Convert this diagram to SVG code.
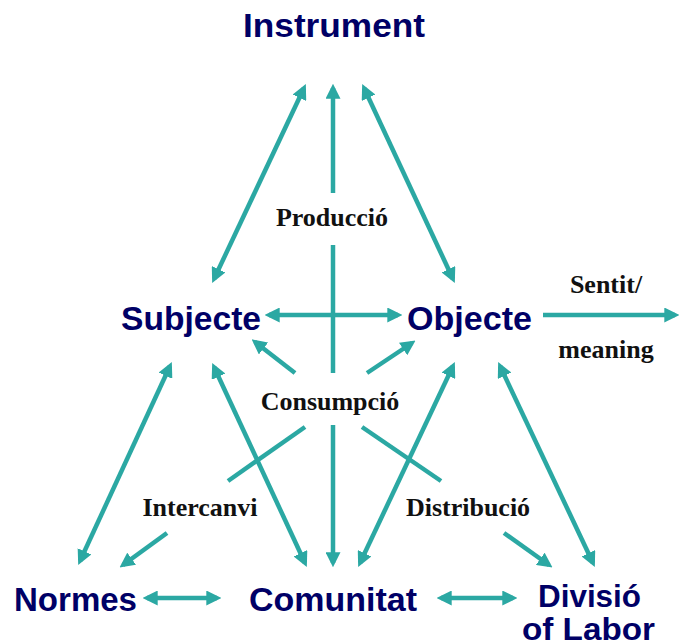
<svg xmlns="http://www.w3.org/2000/svg" width="679" height="644" viewBox="0 0 679 644">
<style>
.node{font-family:"Liberation Sans",Arial,sans-serif;font-weight:bold;font-size:33px;fill:#000066;text-anchor:middle}
.sm{font-size:31px}
.lbl{font-family:"Liberation Serif","Times New Roman",serif;font-weight:bold;font-size:26px;fill:#111;text-anchor:middle}
.c line{stroke:#2ba8a3;stroke-width:4.5;fill:none}
.e{marker-end:url(#ah)}
.b{marker-start:url(#ah);marker-end:url(#ah)}
</style>
<defs>
<marker id="ah" viewBox="0 0 14 14" refX="10" refY="7" markerWidth="15" markerHeight="15" markerUnits="userSpaceOnUse" orient="auto-start-reverse">
<path d="M0,0 L14,7 L0,14 z" fill="#2ba8a3"/>
</marker>
</defs>
<rect width="679" height="644" fill="#fff"/>
<g class="c" id="connectors">
<line class="b" x1="304" y1="88" x2="214" y2="279"/>
<line class="e" x1="333" y1="193" x2="333" y2="88"/>
<line class="b" x1="364" y1="88" x2="453" y2="279"/>
<line x1="333" y1="245" x2="333" y2="373"/>
<line class="b" x1="269" y1="315" x2="398" y2="315"/>
<line class="e" x1="295" y1="373" x2="255" y2="342"/>
<line class="e" x1="367" y1="373" x2="412" y2="343"/>
<line class="b" x1="80" y1="561" x2="170" y2="366"/>
<line class="b" x1="214" y1="367" x2="305" y2="563"/>
<line class="e" x1="333" y1="425" x2="333" y2="563"/>
<line class="b" x1="453" y1="366" x2="360" y2="563"/>
<line class="b" x1="500" y1="366" x2="593" y2="563"/>
<line x1="305" y1="427" x2="228" y2="481"/>
<line class="e" x1="167" y1="533" x2="123" y2="565"/>
<line x1="362" y1="427" x2="441" y2="481"/>
<line class="e" x1="504" y1="533" x2="549" y2="565"/>
<line class="b" x1="147" y1="598" x2="217" y2="598"/>
<line class="b" x1="441" y1="598" x2="513" y2="598"/>
<line class="e" x1="543" y1="315" x2="675" y2="315"/>
</g>
<g id="instrument"><text class="node" x="334" y="37" textLength="182" lengthAdjust="spacingAndGlyphs">Instrument</text></g>
<g id="subjecte"><text class="node" x="191" y="330" textLength="140" lengthAdjust="spacingAndGlyphs">Subjecte</text></g>
<g id="objecte"><text class="node" x="469.5" y="330" textLength="125" lengthAdjust="spacingAndGlyphs">Objecte</text></g>
<g id="normes"><text class="node" x="75.5" y="611" textLength="123" lengthAdjust="spacingAndGlyphs">Normes</text></g>
<g id="comunitat"><text class="node" x="333" y="611" textLength="168" lengthAdjust="spacingAndGlyphs">Comunitat</text></g>
<g id="divisio"><text class="node sm" x="589.5" y="607" textLength="103" lengthAdjust="spacingAndGlyphs">Divisió</text><text class="node sm" x="588.5" y="640" textLength="133" lengthAdjust="spacingAndGlyphs">of Labor</text></g>
<g id="labels">
<text class="lbl" x="332" y="226">Producció</text>
<text class="lbl" x="330" y="410">Consumpció</text>
<text class="lbl" x="200" y="516">Intercanvi</text>
<text class="lbl" x="468" y="516">Distribució</text>
<text class="lbl" x="606" y="293">Sentit/</text>
<text class="lbl" x="606" y="358">meaning</text>
</g>
</svg>
